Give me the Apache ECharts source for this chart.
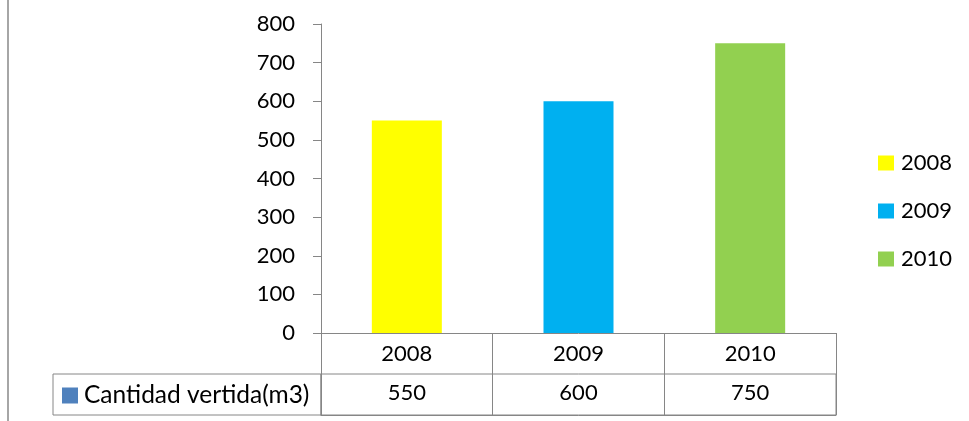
<!DOCTYPE html>
<html>
<head>
<meta charset="utf-8">
<script src="https://cdn.jsdelivr.net/npm/echarts@6/dist/echarts.min.js"></script>
<style>
html,body{margin:0;padding:0;background:#fff;}
#c{width:969px;height:421px;}
</style>
</head>
<body>
<div id="c"></div>
<script>
// ---- data ----
const years = ['2008', '2009', '2010'];
const values = [550, 600, 750];
const seriesLabel = 'Cantidad vertida(m3)';
const yTicks = { min: 0, max: 800, interval: 100 };

// ---- style ----
const barColors = ['#FFFF00', '#00B0F0', '#92D050'];
const seriesColor = '#4F81BD';
const lineColor = '#868686';
const font = 'Lato, "Open Sans", sans-serif';
const fs = 22;

const chart = echarts.init(document.getElementById('c'), null, { renderer: 'canvas' });

const barSeries = years.map((y, i) => ({
  type: 'bar',
  name: y,
  stack: 'one',
  xAxisIndex: 0,
  yAxisIndex: 0,
  barWidth: 70,
  itemStyle: { color: barColors[i] },
  data: years.map((_, j) => (j === i ? values[i] : '-'))
}));

const option = {
  animation: false,
  backgroundColor: '#fff',
  textStyle: { fontFamily: font },
  grid: [
    { left: 321, right: 133, top: 24, height: 309 },
    { left: 321, right: 133, top: 374, height: 41, show: true, borderColor: lineColor, borderWidth: 1 },
    { left: 53, width: 268, top: 374, height: 41, show: true, borderColor: lineColor, borderWidth: 1 }
  ],
  xAxis: [
    {
      gridIndex: 0, type: 'category', data: years,
      axisLine: { show: true, lineStyle: { color: lineColor, width: 1 } },
      axisTick: { show: true, length: 41, interval: 0, lineStyle: { color: lineColor } },
      axisLabel: { color: '#000', fontSize: fs, fontFamily: font, margin: 10, interval: 0 },
      splitLine: { show: false }
    },
    {
      gridIndex: 1, type: 'category', data: values.map(String), position: 'bottom',
      axisLine: { show: true, lineStyle: { color: lineColor, width: 1 } },
      axisTick: { show: true, inside: true, length: 41, interval: 0, lineStyle: { color: lineColor } },
      axisLabel: { inside: true, color: '#000', fontSize: fs, fontFamily: font, margin: 11, interval: 0 },
      splitLine: { show: false }
    },
    { gridIndex: 2, type: 'category', data: [''], show: false }
  ],
  yAxis: [
    {
      gridIndex: 0, type: 'value', min: yTicks.min, max: yTicks.max, interval: yTicks.interval,
      axisLine: { show: true, lineStyle: { color: lineColor, width: 1 } },
      axisTick: { show: true, length: 8, lineStyle: { color: lineColor } },
      axisLabel: { color: '#000', fontSize: fs, fontFamily: font, margin: 26 },
      splitLine: { show: false }
    },
    { gridIndex: 1, type: 'value', show: false, min: 0, max: 1 },
    { gridIndex: 2, type: 'value', show: false, min: 0, max: 1 }
  ],
  legend: [
    {
      data: years, orient: 'vertical', left: 878, top: 152, padding: 0,
      icon: 'rect', itemWidth: 16, itemHeight: 15, itemGap: 26,
      selectedMode: false,
      textStyle: { color: '#000', fontSize: fs, fontFamily: font, padding: [0, 0, 0, 2] }
    },
    {
      data: [seriesLabel], left: 62, top: 383, padding: 0,
      icon: 'rect', itemWidth: 16, itemHeight: 16,
      selectedMode: false,
      textStyle: { color: '#000', fontSize: 24.5, fontFamily: font, padding: [0, 0, 0, 1] }
    }
  ],
  graphic: [
    { type: 'line', shape: { x1: 8, y1: 0, x2: 8, y2: 421 }, style: { stroke: '#a6a6a6', lineWidth: 2 } }
  ],
  series: barSeries.concat([
    { type: 'bar', name: seriesLabel, xAxisIndex: 2, yAxisIndex: 2, data: [], itemStyle: { color: seriesColor } }
  ])
};
chart.setOption(option);
</script>
</body>
</html>
